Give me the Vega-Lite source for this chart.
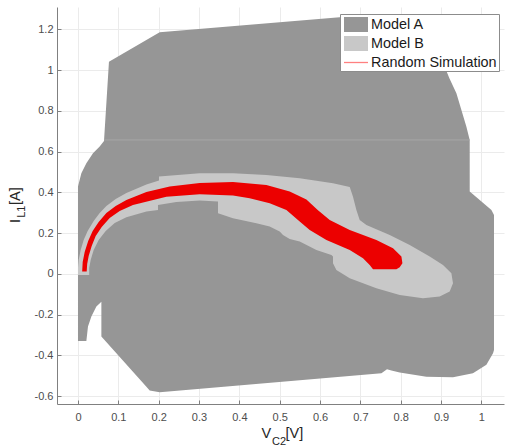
{
  "$schema": "https://vega.github.io/schema/vega-lite/v6.json",
  "width": 447,
  "height": 397,
  "autosize": "none",
  "padding": {"left": 57, "top": 7, "right": 1, "bottom": 44},
  "background": "white",
  "datasets": {
    "modelA": [
      {"series":"Model A","i":1,"x":0.0768,"y":1.041},
      {"series":"Model A","i":2,"x":0.2025,"y":1.185},
      {"series":"Model A","i":3,"x":0.6487,"y":1.259},
      {"series":"Model A","i":4,"x":0.8966,"y":1.27},
      {"series":"Model A","i":5,"x":0.9115,"y":1.04},
      {"series":"Model A","i":6,"x":0.914,"y":0.991},
      {"series":"Model A","i":7,"x":0.9206,"y":0.96},
      {"series":"Model A","i":8,"x":0.938,"y":0.886},
      {"series":"Model A","i":9,"x":0.9504,"y":0.804},
      {"series":"Model A","i":10,"x":0.9628,"y":0.722},
      {"series":"Model A","i":11,"x":0.971,"y":0.657},
      {"series":"Model A","i":12,"x":0.971,"y":0.4036},
      {"series":"Model A","i":13,"x":1.0248,"y":0.314},
      {"series":"Model A","i":14,"x":1.0312,"y":0.289},
      {"series":"Model A","i":15,"x":1.0312,"y":-0.373},
      {"series":"Model A","i":16,"x":1.0288,"y":-0.389},
      {"series":"Model A","i":17,"x":1.0124,"y":-0.446},
      {"series":"Model A","i":18,"x":0.979,"y":-0.487},
      {"series":"Model A","i":19,"x":0.9296,"y":-0.507},
      {"series":"Model A","i":20,"x":0.8637,"y":-0.504},
      {"series":"Model A","i":21,"x":0.7975,"y":-0.484},
      {"series":"Model A","i":22,"x":0.7769,"y":-0.474},
      {"series":"Model A","i":23,"x":0.766,"y":-0.467},
      {"series":"Model A","i":24,"x":0.7521,"y":-0.487},
      {"series":"Model A","i":25,"x":0.2025,"y":-0.58},
      {"series":"Model A","i":26,"x":0.1777,"y":-0.572},
      {"series":"Model A","i":27,"x":0.1696,"y":-0.553},
      {"series":"Model A","i":28,"x":0.058,"y":-0.3075},
      {"series":"Model A","i":29,"x":0.058,"y":-0.136},
      {"series":"Model A","i":30,"x":0.0456,"y":-0.16},
      {"series":"Model A","i":31,"x":0.0332,"y":-0.209},
      {"series":"Model A","i":32,"x":0.0248,"y":-0.258},
      {"series":"Model A","i":33,"x":0.0208,"y":-0.329},
      {"series":"Model A","i":34,"x":0,"y":-0.329},
      {"series":"Model A","i":35,"x":0,"y":0.4282},
      {"series":"Model A","i":36,"x":0.0084,"y":0.4939},
      {"series":"Model A","i":37,"x":0.0208,"y":0.5429},
      {"series":"Model A","i":38,"x":0.0372,"y":0.592},
      {"series":"Model A","i":39,"x":0.0538,"y":0.6243},
      {"series":"Model A","i":40,"x":0.0645,"y":0.6523}
    ],
    "modelB": [
      {"series":"Model B","i":1,"x":0,"y":-0.0049},
      {"series":"Model B","i":2,"x":0,"y":0.0294},
      {"series":"Model B","i":3,"x":0.0017,"y":0.0687},
      {"series":"Model B","i":4,"x":0.0067,"y":0.1177},
      {"series":"Model B","i":5,"x":0.0141,"y":0.1667},
      {"series":"Model B","i":6,"x":0.024,"y":0.2109},
      {"series":"Model B","i":7,"x":0.0389,"y":0.2599},
      {"series":"Model B","i":8,"x":0.0538,"y":0.2992},
      {"series":"Model B","i":9,"x":0.0704,"y":0.3335},
      {"series":"Model B","i":10,"x":0.0935,"y":0.3678},
      {"series":"Model B","i":11,"x":0.12,"y":0.3973},
      {"series":"Model B","i":12,"x":0.1696,"y":0.4389},
      {"series":"Model B","i":13,"x":0.2008,"y":0.4586},
      {"series":"Model B","i":14,"x":0.2008,"y":0.4772},
      {"series":"Model B","i":15,"x":0.3017,"y":0.4939},
      {"series":"Model B","i":16,"x":0.3842,"y":0.4939},
      {"series":"Model B","i":17,"x":0.467,"y":0.4855},
      {"series":"Model B","i":18,"x":0.5496,"y":0.469},
      {"series":"Model B","i":19,"x":0.6321,"y":0.4448},
      {"series":"Model B","i":20,"x":0.6736,"y":0.4267},
      {"series":"Model B","i":21,"x":0.6817,"y":0.379},
      {"series":"Model B","i":22,"x":0.6901,"y":0.3139},
      {"series":"Model B","i":23,"x":0.6983,"y":0.2648},
      {"series":"Model B","i":24,"x":0.7149,"y":0.2403},
      {"series":"Model B","i":25,"x":0.7727,"y":0.1913},
      {"series":"Model B","i":26,"x":0.8223,"y":0.1422},
      {"series":"Model B","i":27,"x":0.8718,"y":0.0848},
      {"series":"Model B","i":28,"x":0.9048,"y":0.0441},
      {"series":"Model B","i":29,"x":0.9256,"y":0.0034},
      {"series":"Model B","i":30,"x":0.9296,"y":-0.0456},
      {"series":"Model B","i":31,"x":0.9214,"y":-0.0868},
      {"series":"Model B","i":32,"x":0.8966,"y":-0.1113},
      {"series":"Model B","i":33,"x":0.8552,"y":-0.1192},
      {"series":"Model B","i":34,"x":0.7975,"y":-0.103},
      {"series":"Model B","i":35,"x":0.7397,"y":-0.0701},
      {"series":"Model B","i":36,"x":0.6736,"y":-0.0211},
      {"series":"Model B","i":37,"x":0.6405,"y":0.0196},
      {"series":"Model B","i":38,"x":0.6321,"y":0.0525},
      {"series":"Model B","i":39,"x":0.6321,"y":0.0848},
      {"series":"Model B","i":40,"x":0.6282,"y":0.0932},
      {"series":"Model B","i":41,"x":0.591,"y":0.1177},
      {"series":"Model B","i":42,"x":0.5496,"y":0.1584},
      {"series":"Model B","i":43,"x":0.5248,"y":0.1717},
      {"series":"Model B","i":44,"x":0.5082,"y":0.1913},
      {"series":"Model B","i":45,"x":0.5,"y":0.2075},
      {"series":"Model B","i":46,"x":0.4752,"y":0.232},
      {"series":"Model B","i":47,"x":0.4422,"y":0.2487},
      {"series":"Model B","i":48,"x":0.3842,"y":0.2732},
      {"series":"Model B","i":49,"x":0.3471,"y":0.2977},
      {"series":"Model B","i":50,"x":0.3471,"y":0.3546},
      {"series":"Model B","i":51,"x":0.3017,"y":0.3605},
      {"series":"Model B","i":52,"x":0.2439,"y":0.3531},
      {"series":"Model B","i":53,"x":0.1983,"y":0.3384},
      {"series":"Model B","i":54,"x":0.1983,"y":0.3139},
      {"series":"Model B","i":55,"x":0.1696,"y":0.3055},
      {"series":"Model B","i":56,"x":0.12,"y":0.2781},
      {"series":"Model B","i":57,"x":0.091,"y":0.2501},
      {"series":"Model B","i":58,"x":0.0687,"y":0.2109},
      {"series":"Model B","i":59,"x":0.0513,"y":0.1667},
      {"series":"Model B","i":60,"x":0.0389,"y":0.1177},
      {"series":"Model B","i":61,"x":0.0315,"y":0.0687},
      {"series":"Model B","i":62,"x":0.0278,"y":0.0294},
      {"series":"Model B","i":63,"x":0.0278,"y":-0.0049}
    ],
    "randomSim": [
      {"series":"Random Simulation","i":1,"x":0.0104,"y":0.0123},
      {"series":"Random Simulation","i":2,"x":0.0117,"y":0.0589},
      {"series":"Random Simulation","i":3,"x":0.0166,"y":0.1079},
      {"series":"Random Simulation","i":4,"x":0.0253,"y":0.1618},
      {"series":"Random Simulation","i":5,"x":0.0364,"y":0.2109},
      {"series":"Random Simulation","i":6,"x":0.0513,"y":0.255},
      {"series":"Random Simulation","i":7,"x":0.0704,"y":0.2992},
      {"series":"Random Simulation","i":8,"x":0.0935,"y":0.3335},
      {"series":"Random Simulation","i":9,"x":0.12,"y":0.3629},
      {"series":"Random Simulation","i":10,"x":0.1696,"y":0.4022},
      {"series":"Random Simulation","i":11,"x":0.2273,"y":0.4291},
      {"series":"Random Simulation","i":12,"x":0.3017,"y":0.4463},
      {"series":"Random Simulation","i":13,"x":0.3842,"y":0.4512},
      {"series":"Random Simulation","i":14,"x":0.467,"y":0.4365},
      {"series":"Random Simulation","i":15,"x":0.5248,"y":0.4036},
      {"series":"Random Simulation","i":16,"x":0.5662,"y":0.3654},
      {"series":"Random Simulation","i":17,"x":0.5942,"y":0.3139},
      {"series":"Random Simulation","i":18,"x":0.624,"y":0.2648},
      {"series":"Random Simulation","i":19,"x":0.6736,"y":0.2158},
      {"series":"Random Simulation","i":20,"x":0.7397,"y":0.1667},
      {"series":"Random Simulation","i":21,"x":0.7809,"y":0.126},
      {"series":"Random Simulation","i":22,"x":0.8017,"y":0.0848},
      {"series":"Random Simulation","i":23,"x":0.8042,"y":0.0525},
      {"series":"Random Simulation","i":24,"x":0.7975,"y":0.0329},
      {"series":"Random Simulation","i":25,"x":0.7893,"y":0.023},
      {"series":"Random Simulation","i":26,"x":0.7313,"y":0.023},
      {"series":"Random Simulation","i":27,"x":0.7231,"y":0.0441},
      {"series":"Random Simulation","i":28,"x":0.7065,"y":0.077},
      {"series":"Random Simulation","i":29,"x":0.6736,"y":0.1177},
      {"series":"Random Simulation","i":30,"x":0.6158,"y":0.1667},
      {"series":"Random Simulation","i":31,"x":0.5744,"y":0.2158},
      {"series":"Random Simulation","i":32,"x":0.5496,"y":0.2565},
      {"series":"Random Simulation","i":33,"x":0.5166,"y":0.3139},
      {"series":"Random Simulation","i":34,"x":0.4752,"y":0.3467},
      {"series":"Random Simulation","i":35,"x":0.4256,"y":0.3713},
      {"series":"Random Simulation","i":36,"x":0.3842,"y":0.385},
      {"series":"Random Simulation","i":37,"x":0.3017,"y":0.391},
      {"series":"Random Simulation","i":38,"x":0.2191,"y":0.379},
      {"series":"Random Simulation","i":39,"x":0.1363,"y":0.3384},
      {"series":"Random Simulation","i":40,"x":0.1034,"y":0.309},
      {"series":"Random Simulation","i":41,"x":0.0786,"y":0.2746},
      {"series":"Random Simulation","i":42,"x":0.0588,"y":0.2305},
      {"series":"Random Simulation","i":43,"x":0.0439,"y":0.1864},
      {"series":"Random Simulation","i":44,"x":0.034,"y":0.1373},
      {"series":"Random Simulation","i":45,"x":0.0265,"y":0.0883},
      {"series":"Random Simulation","i":46,"x":0.0228,"y":0.049},
      {"series":"Random Simulation","i":47,"x":0.0216,"y":0.0123}
    ]
  },
  "layer": [
    {
      "data": {"name": "modelA"},
      "mark": {"type": "line", "filled": true, "strokeWidth": 0, "clip": true},
      "encoding": {
        "x": {"field": "x", "type": "quantitative", "scale": {"domain": [-0.052, 1.056], "nice": false, "zero": false},
              "axis": {"values": [0,0.1,0.2,0.3,0.4,0.5,0.6,0.7,0.8,0.9,1], "labelExpr": "replace(format(datum.value, '~r'), '\u2212', '-')", "labelPadding": 11}},
        "y": {"field": "y", "type": "quantitative", "scale": {"domain": [-0.638, 1.309], "nice": false, "zero": false},
              "axis": {"values": [-0.6,-0.4,-0.2,0,0.2,0.4,0.6,0.8,1,1.2], "labelExpr": "replace(format(datum.value, '~r'), '\u2212', '-')", "labelPadding": 8}},
        "order": {"field": "i", "type": "quantitative"},
        "fill": {
          "field": "series", "type": "nominal",
          "scale": {"domain": ["Model A", "Model B", "Random Simulation"], "range": ["#969696", "#c8c8c8", "#ec0000"]},
          "legend": {
            "title": null,
            "orient": "none",
            "legendX": 283,
            "legendY": 7,
            "padding": 2,
            "symbolSize": 225,
            "rowPadding": -2,
            "labelOffset": 12,
            "labelFont": "Liberation Sans",
            "labelFontSize": 14.4,
            "labelColor": "#1a1a1a",
            "labelLimit": 300,
            "strokeColor": "#8c8c8c",
            "fillColor": "white",
            "symbolStrokeWidth": 1.3,
            "encode": {
              "symbols": {
                "update": {
                  "shape": {"signal": "datum.value === 'Random Simulation' ? 'M-0.87,0H2.33' : 'M-0.87,-1H2.33V1H-0.87Z'"},
                  "fill": {"signal": "datum.value === 'Random Simulation' ? 'transparent' : (datum.value === 'Model A' ? '#969696' : '#c8c8c8')"},
                  "stroke": {"signal": "datum.value === 'Random Simulation' ? '#ff8080' : 'transparent'"},
                  "strokeWidth": {"value": 1.3},
                  "opacity": {"value": 1}
                }
              }
            }
          }
        }
      }
    },
    {
      "data": {"values": [{}]},
      "mark": {"type": "rule", "color": "#a6a6a6", "strokeWidth": 1},
      "encoding": {"x": {"datum": 0.0645, "type": "quantitative"}, "x2": {"datum": 0.971}, "y": {"datum": 0.657, "type": "quantitative"}}
    },
    {
      "data": {"name": "modelB"},
      "mark": {"type": "line", "filled": true, "strokeWidth": 0},
      "encoding": {
        "x": {"field": "x", "type": "quantitative"},
        "y": {"field": "y", "type": "quantitative"},
        "order": {"field": "i", "type": "quantitative"},
        "fill": {"field": "series", "type": "nominal"}
      }
    },
    {
      "data": {"name": "randomSim"},
      "mark": {"type": "line", "filled": true, "strokeWidth": 0},
      "encoding": {
        "x": {"field": "x", "type": "quantitative"},
        "y": {"field": "y", "type": "quantitative"},
        "order": {"field": "i", "type": "quantitative"},
        "fill": {"field": "series", "type": "nominal"}
      }
    },
    {
      "data": {"values": [{}]},
      "mark": {"type": "text", "text": "V", "font": "Liberation Sans", "fontSize": 14.5, "align": "left", "baseline": "alphabetic", "color": "#262626"},
      "encoding": {"x": {"datum": 0.455, "type": "quantitative"}, "y": {"datum": -0.806, "type": "quantitative"}}
    },
    {
      "data": {"values": [{}]},
      "mark": {"type": "text", "text": "C2", "font": "Liberation Sans", "fontSize": 11, "align": "left", "baseline": "alphabetic", "color": "#262626"},
      "encoding": {"x": {"datum": 0.4808, "type": "quantitative"}, "y": {"datum": -0.839, "type": "quantitative"}}
    },
    {
      "data": {"values": [{}]},
      "mark": {"type": "text", "text": "[V]", "font": "Liberation Sans", "fontSize": 14.5, "align": "left", "baseline": "alphabetic", "color": "#262626"},
      "encoding": {"x": {"datum": 0.5144, "type": "quantitative"}, "y": {"datum": -0.806, "type": "quantitative"}}
    },
    {
      "data": {"values": [{}]},
      "mark": {"type": "text", "text": "I", "angle": 270, "font": "Liberation Sans", "fontSize": 14.5, "align": "left", "baseline": "alphabetic", "color": "#262626"},
      "encoding": {"x": {"datum": -0.1445, "type": "quantitative"}, "y": {"datum": 0.25, "type": "quantitative"}}
    },
    {
      "data": {"values": [{}]},
      "mark": {"type": "text", "text": "L1", "angle": 270, "font": "Liberation Sans", "fontSize": 11, "align": "left", "baseline": "alphabetic", "color": "#262626"},
      "encoding": {"x": {"datum": -0.1321, "type": "quantitative"}, "y": {"datum": 0.275, "type": "quantitative"}}
    },
    {
      "data": {"values": [{}]},
      "mark": {"type": "text", "text": "[A]", "angle": 270, "font": "Liberation Sans", "fontSize": 14.5, "align": "left", "baseline": "alphabetic", "color": "#262626"},
      "encoding": {"x": {"datum": -0.1445, "type": "quantitative"}, "y": {"datum": 0.338, "type": "quantitative"}}
    }
  ],
  "config": {
    "view": {"stroke": null},
    "font": "Liberation Sans",
    "axis": {
      "title": null,
      "grid": true,
      "gridColor": "#ebebeb",
      "gridWidth": 1,
      "domainColor": "#808080",
      "tickColor": "#808080",
      "tickSize": -4,
      "labelFont": "Liberation Sans",
      "labelFontSize": 11,
      "labelColor": "#4d4d4d"
    }
  }
}
